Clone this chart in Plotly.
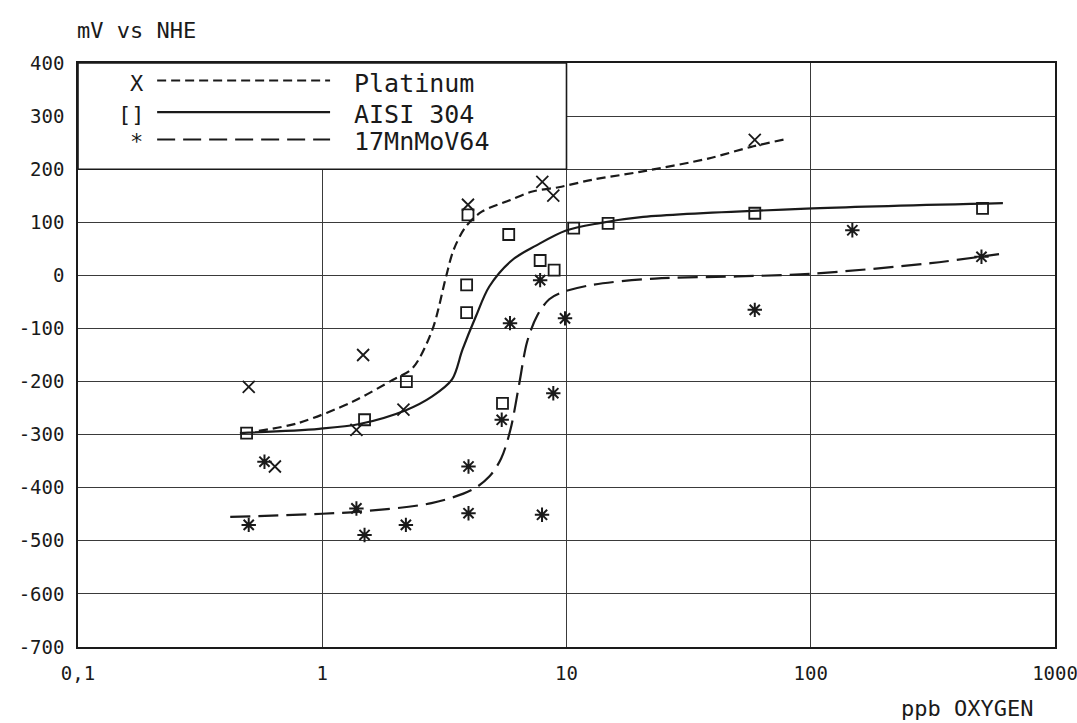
import plotly.graph_objects as go

# ---- data ----
pt_x = [0.5, 0.64, 1.38, 1.47, 2.15, 3.95, 7.96, 8.83, 59]
pt_y = [-210, -360, -291, -150, -253, 133, 176, 150, 255]

aisi_x = [0.49, 1.49, 2.21, 3.9, 3.9, 3.95, 5.47, 5.8, 7.8, 8.9, 10.7, 14.8, 59, 505]
aisi_y = [-297, -272, -200, -18, -70, 114, -241, 77, 28, 10, 89, 98, 117, 126]

mn_x = [0.5, 0.58, 1.38, 1.49, 2.2, 3.97, 3.97, 5.43, 5.87, 7.8, 7.94, 8.83, 9.86, 59, 148, 500]
mn_y = [-470, -351, -439, -489, -470, -360, -448, -272, -90, -9, -451, -222, -81, -65, 85, 35]

pt_fit_x = [0.55, 0.8, 1.33, 1.94, 2.34, 2.82, 3.21, 3.45, 3.86, 4.5, 5.9, 7.25, 9.3, 12.7, 20, 38, 57, 78]
pt_fit_y = [-293, -278, -238, -197, -175, -103, -3, 48, 91, 120, 142, 158, 166, 180, 195, 220, 242, 256]

aisi_fit_x = [0.46, 0.97, 1.42, 2.2, 2.82, 3.4, 3.75, 4.25, 4.83, 6.0, 7.5, 9.9, 13.5, 20.6, 102, 612]
aisi_fit_y = [-297, -289, -280, -254, -228, -196, -140, -78, -21, 29, 56, 84, 98, 110, 126, 136]

mn_fit_x = [0.42, 1.0, 1.42, 2.8, 4.1, 4.83, 5.4, 5.9, 6.4, 6.9, 7.6, 8.5, 9.6, 12.7, 23, 50, 100, 310, 590]
mn_fit_y = [-455, -449, -445, -429, -404, -379, -345, -290, -205, -125, -75, -45, -32, -18, -6, -2, 3, 23, 40]

x_tickvals = [0.1, 1, 10, 100, 1000]
x_ticktext = ["0,1", "1", "10", "100", "1000"]
y_tickvals = list(range(-700, 401, 100))
y_ticktext = [str(v) for v in y_tickvals]

names = ["Platinum", "AISI 304", "17MnMoV64"]
legend_marks = ["X", "[]", "*"]

INK = "#1a1a1a"
FONT = "DejaVu Sans Mono"

fig = go.Figure()

# fitted curves
fig.add_trace(go.Scatter(x=pt_fit_x, y=pt_fit_y, mode="lines",
                         line=dict(color=INK, width=2.2, dash="9px,5px", shape="spline", smoothing=0.9),
                         showlegend=False, hoverinfo="skip"))
fig.add_trace(go.Scatter(x=aisi_fit_x, y=aisi_fit_y, mode="lines",
                         line=dict(color=INK, width=2.2, shape="spline", smoothing=0.9),
                         showlegend=False, hoverinfo="skip"))
fig.add_trace(go.Scatter(x=mn_fit_x, y=mn_fit_y, mode="lines",
                         line=dict(color=INK, width=2.2, dash="20px,8px", shape="spline", smoothing=0.9),
                         showlegend=False, hoverinfo="skip"))

# measured points
fig.add_trace(go.Scatter(x=pt_x, y=pt_y, mode="markers", name=names[0], showlegend=False,
                         marker=dict(symbol="x-thin-open", size=12, color=INK,
                                     line=dict(width=1.8, color=INK))))
fig.add_trace(go.Scatter(x=aisi_x, y=aisi_y, mode="markers", name=names[1], showlegend=False,
                         marker=dict(symbol="square-open", size=11, color=INK,
                                     line=dict(width=1.8, color=INK))))
fig.add_trace(go.Scatter(x=mn_x, y=mn_y, mode="markers", name=names[2], showlegend=False,
                         marker=dict(symbol="asterisk-open", size=12, color=INK,
                                     line=dict(width=2, color=INK))))

shapes = [
    # legend box (covers the grid in the upper-left)
    dict(type="rect", xref="paper", yref="y", x0=0, x1=0.5, y0=200, y1=400,
         fillcolor="white", line=dict(color=INK, width=1.6), layer="above"),
]
# legend line samples
row_y = [0.970, 0.916, 0.869]
dashes = ["9px,5px", "solid", "18px,8px"]
for ry, d in zip(row_y, dashes):
    shapes.append(dict(type="line", xref="paper", yref="paper", x0=0.081, x1=0.258,
                       y0=ry, y1=ry, line=dict(color=INK, width=2.2, dash=d), layer="above"))

annotations = []
text_y = [0.965, 0.911, 0.866]
sym_x = [0.060, 0.055, 0.060]
for i in range(3):
    annotations.append(dict(xref="paper", yref="paper", x=sym_x[i], y=text_y[i],
                            text=legend_marks[i], showarrow=False, xanchor="center",
                            yanchor="middle", font=dict(family=FONT, size=22, color=INK)))
    annotations.append(dict(xref="paper", yref="paper", x=0.280, y=text_y[i],
                            text=names[i], showarrow=False, xanchor="left",
                            yanchor="middle", font=dict(family=FONT, size=25, color=INK)))

annotations.append(dict(xref="paper", yref="paper", x=-0.003, y=1.0565, text="mV vs NHE",
                        showarrow=False, xanchor="left", yanchor="middle",
                        font=dict(family=FONT, size=22, color=INK)))
annotations.append(dict(xref="paper", yref="paper", x=0.98, y=-0.1045, text="ppb OXYGEN",
                        showarrow=False, xanchor="right", yanchor="middle",
                        font=dict(family=FONT, size=22, color=INK)))

fig.update_layout(
    width=1077, height=723,
    margin=dict(l=78, r=22, t=63, b=76, autoexpand=False),
    paper_bgcolor="white", plot_bgcolor="white",
    shapes=shapes, annotations=annotations,
    showlegend=False,
    font=dict(family=FONT, color=INK),
)
fig.update_xaxes(type="log", range=[-1, 3], tickvals=x_tickvals, ticktext=x_ticktext,
                 showgrid=True, gridcolor="#3a3a3a", gridwidth=1.3,
                 showline=True, linecolor=INK, linewidth=1.6, mirror=True,
                 ticks="", zeroline=False, ticklabelstandoff=8, automargin=False,
                 ticklabeloverflow="allow",
                 tickfont=dict(family=FONT, size=19, color=INK))
fig.update_yaxes(range=[-700, 400], tickvals=y_tickvals, ticktext=y_ticktext,
                 showgrid=True, gridcolor="#3a3a3a", gridwidth=1.3,
                 showline=True, linecolor=INK, linewidth=1.6, mirror=True,
                 ticks="", zeroline=False, ticklabelstandoff=8, automargin=False,
                 ticklabeloverflow="allow",
                 tickfont=dict(family=FONT, size=19, color=INK))

fig.write_html("out.html", config={"displayModeBar": False},
               post_script="document.body.style.margin='0';document.body.style.overflow='hidden';")
